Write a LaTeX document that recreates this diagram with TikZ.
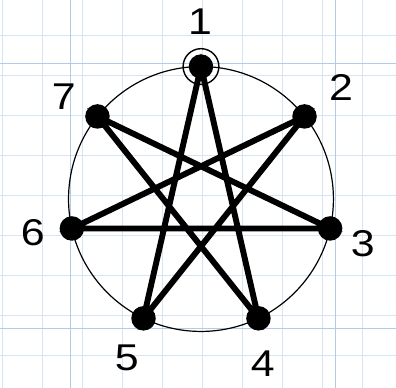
\documentclass[tikz,border=0pt]{standalone}
\usepackage{fontspec}
\setmainfont{Liberation Sans}
\newfontfamily\labelfont[FakeStretch=1.15]{Liberation Sans}
\usetikzlibrary{calc}
\definecolor{gridblue}{RGB}{214,228,243}
\definecolor{gridmajor}{RGB}{178,204,232}
\begin{document}
\begin{tikzpicture}[x=0.8275cm,y=0.8275cm,
    gridline/.style={gridblue,line width=0.6pt},
    starline/.style={line width=4.2pt},
    vertexdot/.style={fill=black},
    numlabel/.style={font=\labelfont\fontsize{26.5}{26.5}\selectfont,inner sep=0pt}]
        % 396x387 px, one grid square = 33.1 px
        \clip (-6.07,-5.68) rectangle (5.89,6.01);
        \useasboundingbox (-6.07,-5.68) rectangle (5.89,6.01);
        \fill[white] (-6.07,-5.68) rectangle (5.89,6.01);

        % Grid paper
        \draw[gridline,shift={(0.05,0.1)}] (-7,-7) grid (7,7);
        \draw[gridmajor,line width=0.7pt] (-3.95,-7) -- (-3.95,7);
        \draw[gridmajor,line width=0.7pt] (4.05,-7) -- (4.05,7);
        \draw[gridmajor,line width=0.7pt] (-7,4.1) -- (7,4.1);
        \draw[gridmajor,line width=0.7pt] (-7,-3.9) -- (7,-3.9);

        % Vertices of the regular heptagon
        \coordinate (O) at (0,0);
        \coordinate (P1) at (90:4);
        \coordinate (P2) at (38.571:4);
        \coordinate (P3) at (-12.857:4);
        \coordinate (P4) at (-64.286:4);
        \coordinate (P5) at (-115.714:4);
        \coordinate (P6) at (-167.143:4);
        \coordinate (P7) at (141.429:4);

        \draw[line width=0.85pt] (O) circle (4);

        % Star {7/3}
        \draw[starline] (P1) -- (P4) -- (P7) -- (P3) -- (P6) -- (P2) -- (P5) -- cycle;

        % Dots
        \foreach \p in {P1,P2,P3,P4,P5,P6,P7}
            \fill[vertexdot] (\p) circle (0.37);
        \draw[line width=1pt] (P1) circle (0.54);

        % Labels
        \node[numlabel] (L1) at (-0.03,5.36) {1};
        \node[numlabel] (L2) at (4.23,3.38) {2};
        \node[numlabel] (L3) at (4.89,-1.36) {3};
        \node[numlabel] (L4) at (1.87,-4.97) {4};
        \node[numlabel] (L5) at (-2.24,-4.80) {5};
        \node[numlabel] (L6) at (-5.08,-1.03) {6};
        \node[numlabel] (L7) at (-4.14,3.08) {7};

    \end{tikzpicture}
\end{document}
